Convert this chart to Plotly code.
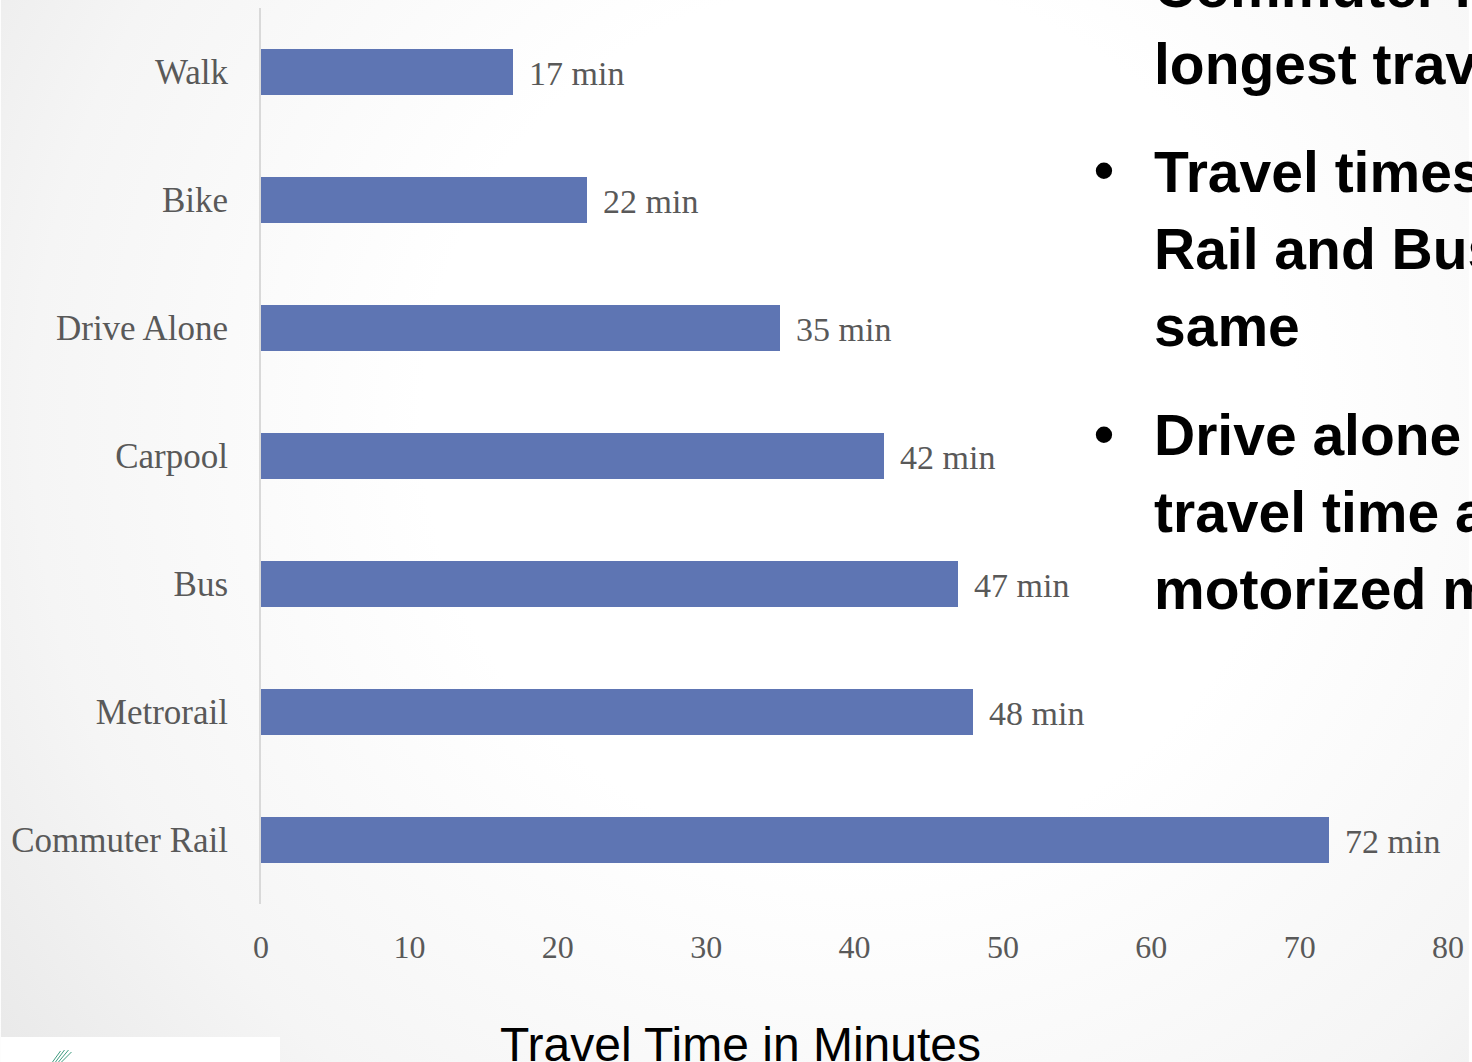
import base64
import plotly.graph_objects as go

# Average one-way commute time by mode
modes = ["Walk", "Bike", "Drive Alone", "Carpool", "Bus", "Metrorail", "Commuter Rail"]
minutes = [17, 22, 35, 42, 47, 48, 72]
x_ticks = [0, 10, 20, 30, 40, 50, 60, 70, 80]

# Slide text beside the chart (each entry is one line)
notes_top = ["Commuter Rail has", "longest travel time"]
notes_rail_bus = ["Travel times for", "Rail and Bus", "same"]
notes_drive = ["Drive alone has", "travel time among", "motorized modes"]

W, H = 1472, 1062
L, R, T, B = 261, 21, 8, 158
PW, PH = W - L - R, H - T - B


def px(xp):
    return (xp - L) / PW


def py(yp):
    return (H - B - yp) / PH


BAR_COLOR = "#5E75B3"
LABEL_GRAY = "#595959"
SERIF = "Liberation Serif, Times New Roman, serif"
SANS = "Liberation Sans, Arial, sans-serif"

fig = go.Figure(
    go.Bar(
        y=modes,
        x=minutes,
        orientation="h",
        width=0.352,
        marker=dict(color=BAR_COLOR, line=dict(width=0)),
        hoverinfo="skip",
    )
)

# value labels to the right of each bar
annotations = []
for m, v in zip(modes, minutes):
    annotations.append(dict(
        x=v, y=m, xref="x", yref="y", text=f"{v} min", showarrow=False,
        xanchor="left", yanchor="middle", xshift=14, yshift=-1,
        font=dict(family=SERIF, size=34, color=LABEL_GRAY),
    ))

# axis title under the tick labels
annotations.append(dict(
    x=px(742), y=py(1044), xref="paper", yref="paper",
    text="Travel Time in Minutes", showarrow=False,
    xanchor="center", yanchor="middle",
    font=dict(family=SANS, size=48, color="#000000"),
))

# bullet text on the right
NOTE_SIZE = 57


def add_lines(lines, baselines):
    for txt, base in zip(lines, baselines):
        annotations.append(dict(
            x=px(1154), y=py(base - 0.3465 * NOTE_SIZE), xref="paper", yref="paper",
            text=f"<b>{txt}</b>", showarrow=False, xanchor="left", yanchor="middle",
            font=dict(family=SANS, size=NOTE_SIZE, color="#000000"),
        ))


add_lines(notes_top, [7, 84])
add_lines(notes_rail_bus, [192, 269, 346])
add_lines(notes_drive, [455, 532, 609])
for yb in (170, 434):
    annotations.append(dict(
        x=px(1106), y=py(yb), xref="paper", yref="paper", text="<b>•</b>",
        showarrow=False, xanchor="center", yanchor="middle",
        font=dict(family=SANS, size=NOTE_SIZE, color="#000000"),
    ))

# soft radial backdrop of the slide
svg = (
    f'<svg xmlns="http://www.w3.org/2000/svg" width="{W}" height="{H}" '
    f'viewBox="0 0 {W} {H}" preserveAspectRatio="none">'
    '<defs><radialGradient id="g" gradientUnits="userSpaceOnUse" '
    'cx="860" cy="420" r="1150">'
    '<stop offset="0" stop-color="#ffffff"/>'
    '<stop offset="0.38" stop-color="#ffffff"/>'
    '<stop offset="0.72" stop-color="#f5f5f5"/>'
    '<stop offset="1" stop-color="#e5e5e5"/>'
    '</radialGradient></defs>'
    f'<rect width="{W}" height="{H}" fill="url(#g)"/></svg>'
)
bg_uri = "data:image/svg+xml;base64," + base64.b64encode(svg.encode()).decode()

shapes = [
    # white footer panel holding the logo
    dict(type="rect", xref="paper", yref="paper", x0=px(0), x1=px(280),
         y0=py(1062), y1=py(1037), fillcolor="#ffffff", line=dict(width=0), layer="above"),
]
for x0, y0, x1, y1 in [(52, 1062, 60, 1051), (55, 1062, 64, 1050), (58, 1062, 68, 1050), (61, 1062, 71, 1052)]:
    shapes.append(dict(type="line", xref="paper", yref="paper",
                       x0=px(x0), y0=py(y0), x1=px(x1), y1=py(y1),
                       line=dict(color="#3f9c80", width=1), layer="above"))

fig.update_layout(
    width=W, height=H,
    margin=dict(l=L, r=R, t=T, b=B, pad=0),
    paper_bgcolor="#ffffff",
    plot_bgcolor="rgba(0,0,0,0)",
    showlegend=False,
    bargap=0,
    annotations=annotations,
    shapes=shapes,
    images=[dict(source=bg_uri, xref="paper", yref="paper",
                 x=px(0), y=py(0), sizex=W / PW, sizey=H / PH,
                 sizing="stretch", xanchor="left", yanchor="top", layer="below")],
    xaxis=dict(
        range=[0, 80], tickvals=x_ticks, showgrid=False, zeroline=False,
        showline=False, ticks="outside", ticklen=15, tickcolor="rgba(0,0,0,0)",
        tickfont=dict(family=SERIF, size=32, color=LABEL_GRAY), fixedrange=True,
    ),
    yaxis=dict(
        type="category", categoryorder="array", categoryarray=modes,
        autorange="reversed", showgrid=False, zeroline=False,
        showline=True, linecolor="#d9d9d9", linewidth=2,
        ticks="outside", ticklen=24, tickcolor="rgba(0,0,0,0)",
        tickfont=dict(family=SERIF, size=35, color=LABEL_GRAY), fixedrange=True,
    ),
)

fig.write_html("out.html", config={"displayModeBar": False})
